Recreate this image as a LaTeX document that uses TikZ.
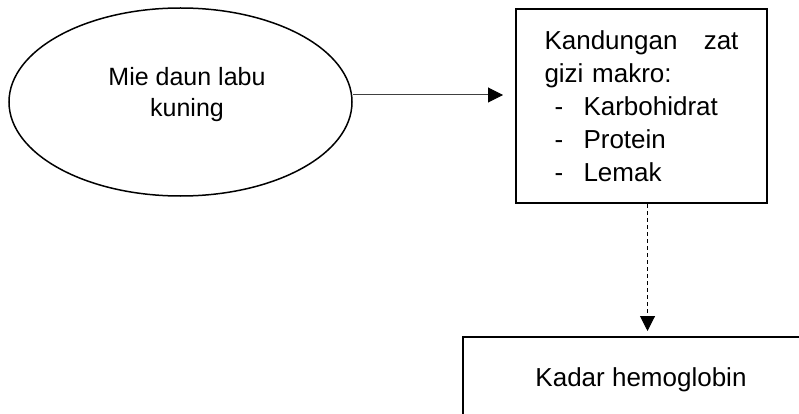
\documentclass[tikz,border=0pt]{standalone}
\usepackage{fontspec}
\setmainfont{Liberation Sans}
\usetikzlibrary{shapes.geometric, arrows.meta, positioning, calc}
\tikzset{
	oval/.style={
		ellipse, 
		draw=black, 
		line width=1.5pt, 
		minimum width=343pt, 
		minimum height=188pt, 
		inner sep=0pt
	},
	box/.style={
		rectangle, 
		draw=black, 
		line width=2pt, 
		inner sep=0pt,
		font=\fontsize{26}{33}\selectfont
	},
	txt/.style={
		inner sep=0pt, 
		align=center, 
		font=\fontsize{25}{31}\selectfont
	},
	arrow/.style={line width=1pt, draw=black!75, -{Triangle[length=15pt,width=15pt,color=black]}},
	dasharrow/.style={line width=1pt, dash pattern=on 4pt off 3pt, -{Triangle[length=15pt,width=15pt]}}
}
\newcommand{\itm}[1]{\makebox[39pt][l]{\hspace*{10pt}-}#1}

\begin{document}
\begin{tikzpicture}[x=1pt, y=-1pt]
				\useasboundingbox (0,0) rectangle (799,414);
				\node (mie) [oval] at (180.5,102) {};
				\node (mietext) [txt] at (187,95) {Mie daun labu\\kuning};
				\node (gizi) [box, minimum width=251pt, minimum height=194pt, text width=194pt, align=left] at (641.5,106)
					{\makebox[194pt]{Kandungan\hfill zat}\\gizi makro:\\\itm{Karbohidrat}\\\itm{Protein}\\\itm{Lemak}};
				\node (hb) [box, minimum width=356pt, minimum height=86pt] at (641,380) {Kadar hemoglobin};
				
				\draw [arrow, shorten >=12pt] ([yshift=7pt]mie.east) -- ([yshift=7pt]mie.east -| gizi.west);
				\draw [dasharrow, shorten >=5pt] ([xshift=6pt]gizi.south) -- ([xshift=6pt]gizi.south |- hb.north);
			\end{tikzpicture}
\end{document}
